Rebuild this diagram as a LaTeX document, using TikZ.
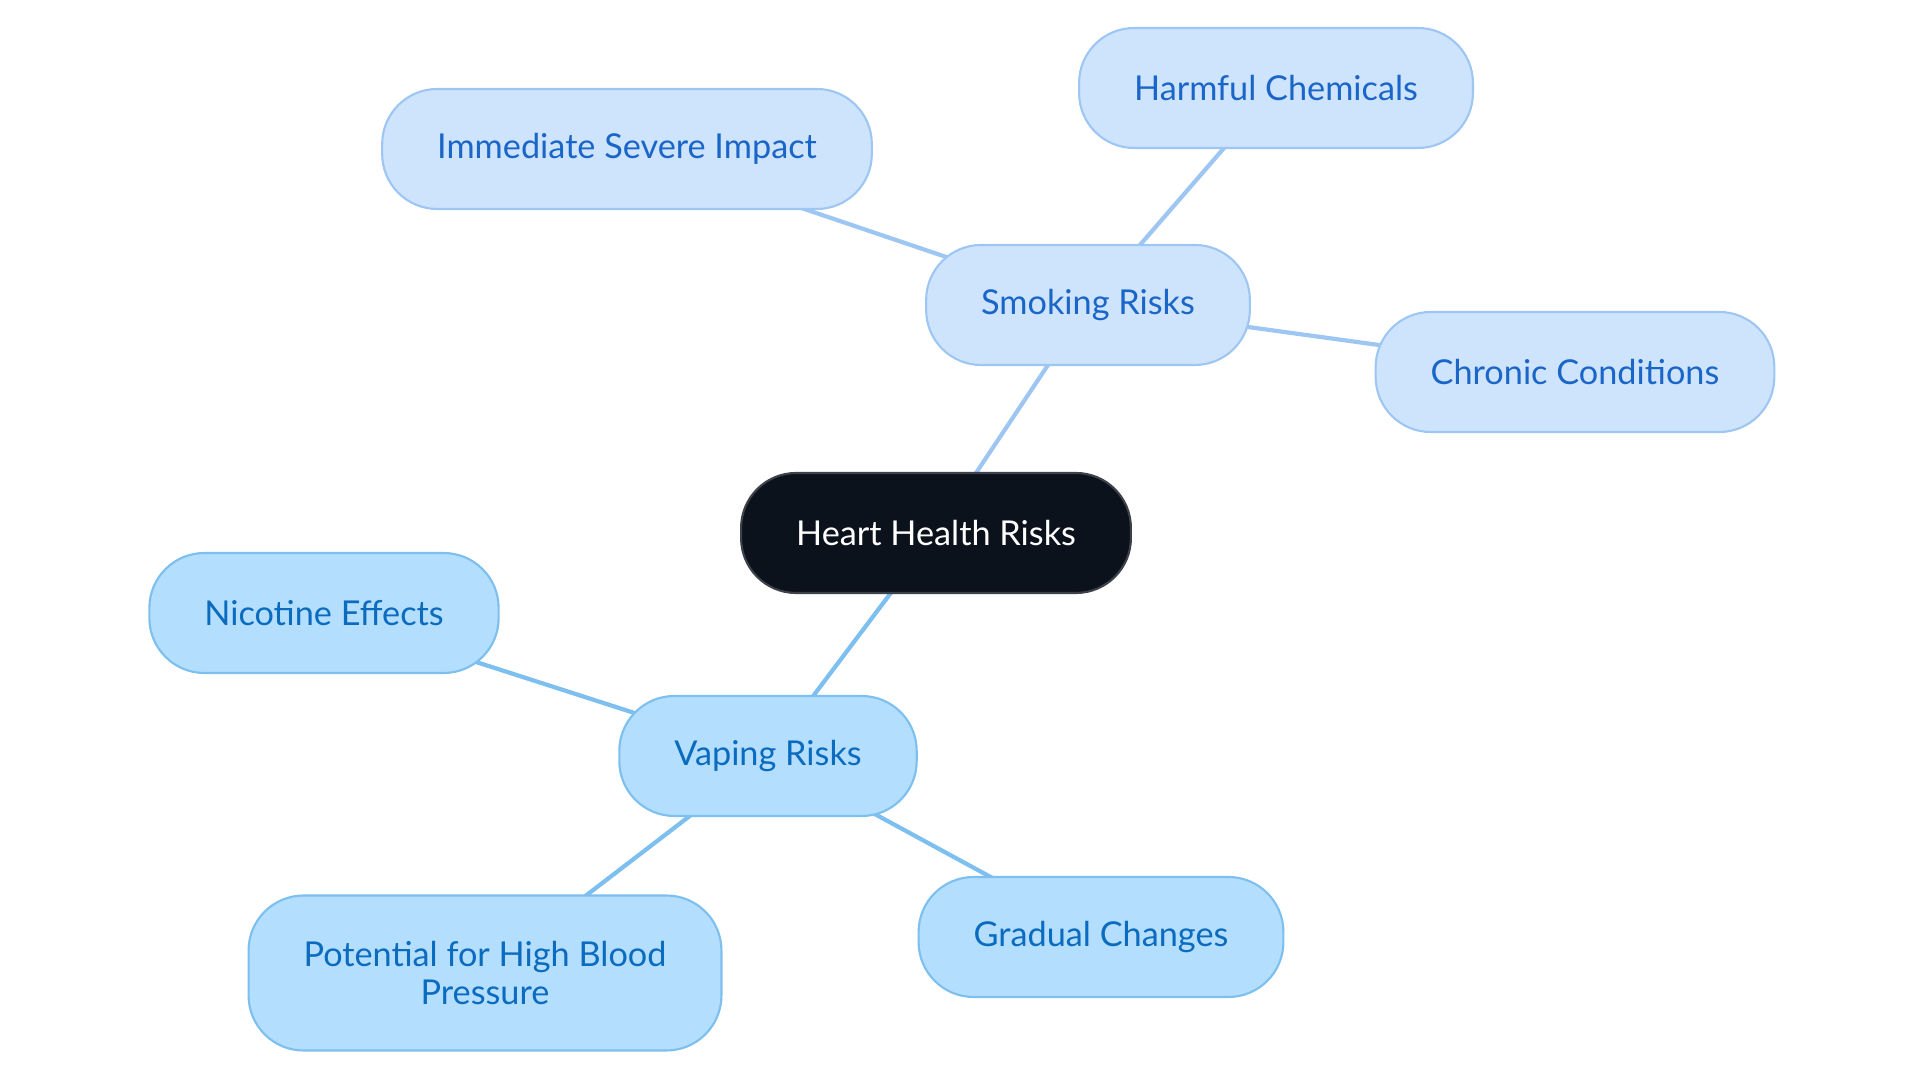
\documentclass[tikz,border=0pt]{standalone}
\usepackage{fontspec}
\setmainfont{Lato}
\usepackage{tikz}
\usetikzlibrary{backgrounds}

\definecolor{rootfill}{HTML}{0C121C}
\definecolor{smokefill}{HTML}{CEE3FC}
\definecolor{smokeline}{HTML}{9EC6F2}
\definecolor{smoketext}{HTML}{1A66C8}
\definecolor{vapefill}{HTML}{B3DEFD}
\definecolor{vapeline}{HTML}{7DBFEF}
\definecolor{vapetext}{HTML}{0B6BBE}

\begin{document}
\begin{tikzpicture}
    \useasboundingbox (0,0) rectangle (19.2,10.83);
    \begin{scope}[every node/.style={rectangle,rounded corners=0.55cm,
        minimum height=1.2cm,inner xsep=0.55cm,line width=0.6pt,
        font=\fontsize{9.75}{10.6}\selectfont,align=center}]
        \node [fill=rootfill,draw=rootfill!80!white,text=white] (heart) at (9.36,5.50) {Heart Health Risks};
        \node [fill=smokefill,draw=smokeline,text=smoketext] (smoking) at (10.88,7.78) {Smoking Risks};
        \node [fill=smokefill,draw=smokeline,text=smoketext] (chemicals) at (12.76,9.95) {Harmful Chemicals};
        \node [fill=smokefill,draw=smokeline,text=smoketext] (immediate) at (6.27,9.34) {Immediate Severe Impact};
        \node [fill=smokefill,draw=smokeline,text=smoketext] (chronic) at (15.75,7.11) {Chronic Conditions};
        \node [fill=vapefill,draw=vapeline,text=vapetext] (vaping) at (7.68,3.27) {Vaping Risks};
        \node [fill=vapefill,draw=vapeline,text=vapetext] (nicotine) at (3.24,4.70) {Nicotine Effects};
        \node [fill=vapefill,draw=vapeline,text=vapetext,minimum height=1.55cm] (pressure) at (4.85,1.10) {Potential for High Blood\\Pressure};
        \node [fill=vapefill,draw=vapeline,text=vapetext] (gradual) at (11.01,1.46) {Gradual Changes};
    \end{scope}

    \begin{pgfonlayer}{background}
    \begin{scope}[line width=1.2pt]
        \draw [smokeline] (heart.center) -- (smoking.center);
        \draw [smokeline] (smoking.center) -- (chemicals.center);
        \draw [smokeline] (smoking.center) -- (immediate.center);
        \draw [smokeline] (smoking.center) -- (chronic.center);
        \draw [vapeline] (heart.center) -- (vaping.center);
        \draw [vapeline] (vaping.center) -- (nicotine.center);
        \draw [vapeline] (vaping.center) -- (pressure.center);
        \draw [vapeline] (vaping.center) -- (gradual.center);
    \end{scope}
    \end{pgfonlayer}
\end{tikzpicture}
\end{document}
